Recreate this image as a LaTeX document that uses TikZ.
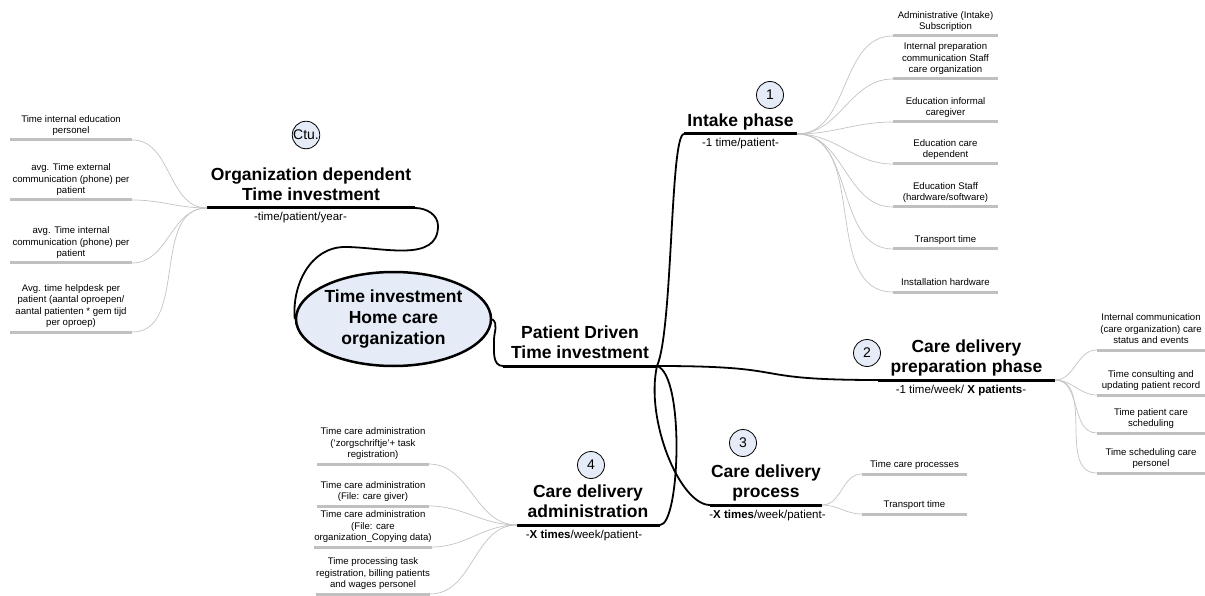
\documentclass[tikz,border=0pt]{standalone}
\usepackage{fontspec}
\setmainfont{Liberation Sans}
\usetikzlibrary{positioning,shapes.geometric}
\definecolor{bubble}{RGB}{229,235,247}
\definecolor{leafgray}{RGB}{192,192,192}
\definecolor{twiggray}{RGB}{195,195,195}
\tikzset{
    root/.style = {ellipse, draw, line width=2.5pt, fill=bubble, minimum width=195pt,
                   minimum height=94pt, inner sep=0pt, align=center,
                   font=\bfseries\fontsize{17.5}{21}\selectfont},
    topic/.style = {anchor=south, align=center, inner sep=1pt, execute at end node=\strut,
                    font=\bfseries\fontsize{17.5}{20}\selectfont},
    note/.style = {anchor=base, inner sep=0pt, font=\fontsize{11.5}{14}\selectfont},
    badge/.style = {circle, draw, line width=0.8pt, fill=bubble, minimum size=27pt,
                    inner sep=0pt, font=\fontsize{14}{16}\selectfont},
    leaf/.style = {anchor=south, align=center, minimum width=#1, inner xsep=0pt,
                   inner ysep=2.5pt, execute at end node=\strut,
                   font=\fontsize{9.6}{11.5}\selectfont},
    spine/.style = {line width=3pt},
    branch/.style = {line width=1.8pt},
    leafbar/.style = {draw=leafgray, line width=3pt},
    twig/.style = {draw=twiggray, line width=0.7pt, out=0, in=180}
}
\begin{document}
\begin{tikzpicture}[x=1pt,y=-1pt]
    \useasboundingbox (0,0) rectangle (1205,596);

    % centre
    \node[root] (root) at (393.5,319) {Time investment\\Home care\\organization};

    % bars of the main topics
    \coordinate (orgL) at (207,208);
    \coordinate (orgR) at (415,208);
    \coordinate (pdL) at (503,366);
    \coordinate (pdR) at (657,366);
    \coordinate (intakeL) at (684,134);
    \coordinate (intakeR) at (797,134);
    \coordinate (prepL) at (878,380);
    \coordinate (prepR) at (1055,380);
    \coordinate (procL) at (710,505);
    \coordinate (procR) at (822,505);
    \coordinate (adminL) at (517,525);
    \coordinate (adminR) at (660,525);

    \node[topic] (org) at (311,208) {Organization dependent\\Time investment};
    \node[topic] (pd) at (580,366) {Patient Driven\\Time investment};
    \node[topic] (intake) at (740.5,134) {Intake phase};
    \node[topic] (prep) at (966.5,380) {Care delivery\\preparation phase};
    \node[topic] (proc) at (766,505) {Care delivery\\process};
    \node[topic] (admin) at (588,525) {Care delivery\\administration};

    \node[note] (orgN) at (300.5,221) {-time/patient/year-};
    \node[note] (intakeN) at (740.5,147) {-1 time/patient-};
    \node[note] (prepN) at (961,393) {-1 time/week/ \textbf{X patients}-};
    \node[note] (procN) at (767.5,518) {-\textbf{X times}/week/patient-};
    \node[note] (adminN) at (584,538) {-\textbf{X times}/week/patient-};

    \node[badge] (ctu) at (306,135) {Ctu.};
    \node[badge] (one) at (770,95) {1};
    \node[badge] (two) at (867,353) {2};
    \node[badge] (three) at (743,443) {3};
    \node[badge] (four) at (591,465) {4};

    \draw[spine] (orgL) -- (orgR);
    \draw[spine] (pdL) -- (pdR);
    \draw[spine] (intakeL) -- (intakeR);
    \draw[spine] (prepL) -- (prepR);
    \draw[spine] (procL) -- (procR);
    \draw[spine] (adminL) -- (adminR);

    % branches
    \draw[branch] (root.west) to[out=95,in=180] (345,247) to[out=0,in=-90] (438,226)
        to[out=90,in=0] (orgR);
    \draw[branch] (root.east) to[out=-40,in=90] (494,340) to[out=-90,in=180] (pdL);
    \draw[branch] (pdR) .. controls (673,330) and (670,134) .. (intakeL);
    \draw[branch] (pdR) .. controls (800,366) and (740,380) .. (prepL);
    \draw[branch] (pdR) .. controls (645,420) and (680,505) .. (procL);
    \draw[branch] (pdR) .. controls (685,375) and (680,525) .. (adminR);

    % leaves
    \node[leaf=105pt] (in1) at (945.5,36) {Administrative (Intake)\\Subscription};
    \node[leaf=105pt] (in2) at (945.5,79) {Internal preparation\\communication Staff\\care organization};
    \node[leaf=105pt] (in3) at (945.5,122) {Education informal\\caregiver};
    \node[leaf=105pt] (in4) at (945.5,164) {Education care\\dependent};
    \node[leaf=105pt] (in5) at (945.5,207) {Education Staff\\(hardware/software)};
    \node[leaf=105pt] (in6) at (945.5,249) {Transport time};
    \node[leaf=105pt] (in7) at (945.5,292) {Installation hardware};

    \node[leaf=122pt] (og1) at (71,140) {Time internal education\\personel};
    \node[leaf=122pt] (og2) at (71,200) {avg. Time external\\communication (phone) per\\patient};
    \node[leaf=122pt] (og3) at (71,263) {avg. Time internal\\communication (phone) per\\patient};
    \node[leaf=122pt] (og4) at (71,332) {Avg. time helpdesk per\\patient (aantal oproepen/\\aantal patienten * gem tijd\\per oproep)};

    \node[leaf=108pt] (pr1) at (1151,350) {Internal communication\\(care organization) care\\status and events};
    \node[leaf=108pt] (pr2) at (1151,395) {Time consulting and\\updating patient record};
    \node[leaf=108pt] (pr3) at (1151,433) {Time patient care\\scheduling};
    \node[leaf=108pt] (pr4) at (1151,473) {Time scheduling care\\personel};

    \node[leaf=105pt] (pc1) at (914.5,474) {Time care processes};
    \node[leaf=105pt] (pc2) at (914.5,514) {Transport time};

    \node[leaf=111pt] (ad1) at (373,464) {Time care administration\\(`zorgschriftje'+ task\\registration)};
    \node[leaf=111pt] (ad2) at (373,506) {Time care administration\\(File: care giver)};
    \node[leaf=111pt] (ad3) at (373,547) {Time care administration\\(File: care\\organization\_Copying data)};
    \node[leaf=111pt] (ad4) at (373,594) {Time processing task\\registration, billing patients\\and wages personel};

    \foreach \n in {in1,in2,in3,in4,in5,in6,in7}
        \path (intakeR) edge[twig] (\n.south west) (\n.south west) edge[leafbar] (\n.south east);
    \foreach \n in {pr1,pr2,pr3,pr4}
        \path (prepR) edge[twig] (\n.south west) (\n.south west) edge[leafbar] (\n.south east);
    \foreach \n in {pc1,pc2}
        \path (procR) edge[twig] (\n.south west) (\n.south west) edge[leafbar] (\n.south east);
    \foreach \n in {og1,og2,og3,og4}
        \path (orgL) edge[twig,out=180,in=0] (\n.south east) (\n.south west) edge[leafbar] (\n.south east);
    \foreach \n in {ad1,ad2,ad3,ad4}
        \path (adminL) edge[twig,out=180,in=0] (\n.south east) (\n.south west) edge[leafbar] (\n.south east);
\end{tikzpicture}
\end{document}
